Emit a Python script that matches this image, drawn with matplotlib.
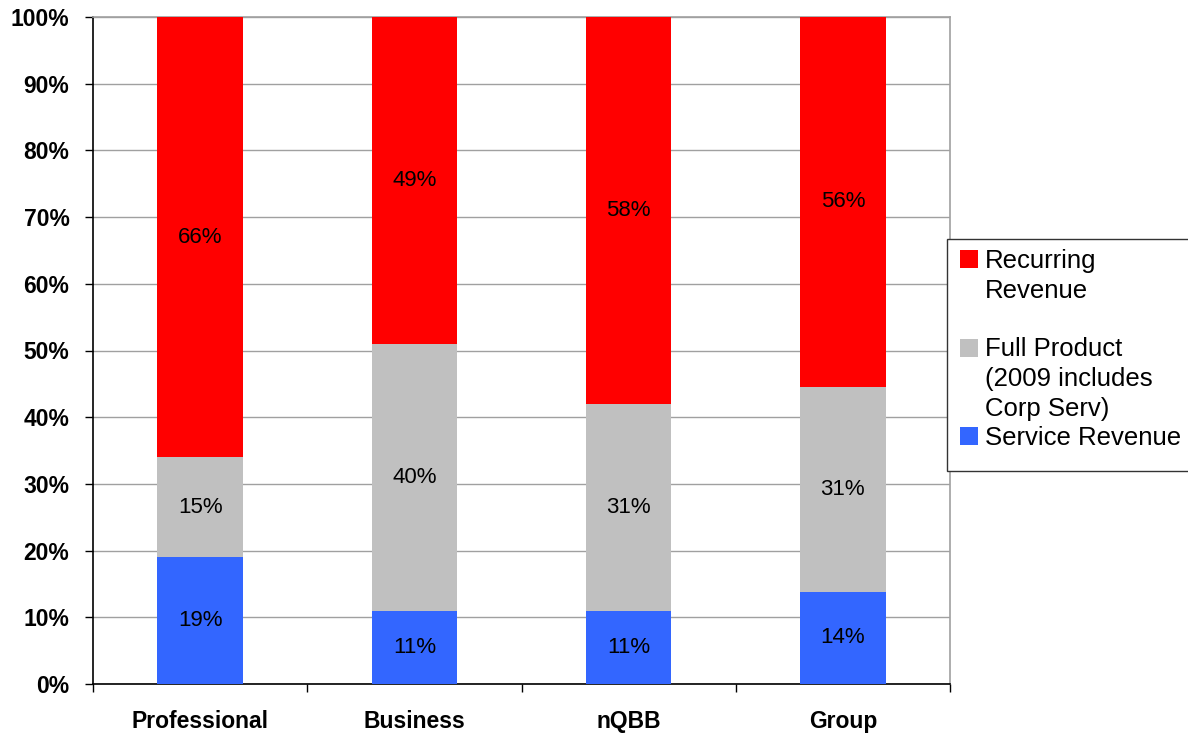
import matplotlib
matplotlib.use("Agg")
import matplotlib.pyplot as plt
from matplotlib.patches import Rectangle
import numpy as np

plt.rcParams['font.family'] = ['Liberation Sans', 'DejaVu Sans']

categories = ["Professional", "Business", "nQBB", "Group"]
series_names = ["Service Revenue", "Full Product\n(2009 includes\nCorp Serv)", "Recurring\nRevenue"]
service = [19, 11, 11, 14]
full_product = [15, 40, 31, 31]
recurring = [66, 49, 58, 56]
colors = ["#3366FF", "#C0C0C0", "#FF0000"]
yticks = [0, 10, 20, 30, 40, 50, 60, 70, 80, 90, 100]

raw = np.array([service, full_product, recurring], dtype=float)
totals = raw.sum(axis=0)
shares = raw / totals * 100

fig = plt.figure(figsize=(11.88, 7.35), dpi=100)
ax = fig.add_axes([93/1188, 1-684/735, (950-93)/1188, (684-17)/735])

x = np.arange(len(categories))
bottom = np.zeros(len(categories))
for i in range(3):
    ax.bar(x, shares[i], width=0.40, bottom=bottom, color=colors[i], zorder=3)
    for j in range(len(categories)):
        ax.text(x[j], bottom[j] + shares[i][j] / 2, f"{int(raw[i][j])}%",
                ha="center", va="center", fontsize=16, color="black", zorder=4)
    bottom += shares[i]

ax.set_xlim(-0.5, len(categories) - 0.5)
ax.set_ylim(0, 100)
ax.set_yticks(yticks)
ax.set_yticklabels([f"{v}%" for v in yticks], fontsize=16.5, fontweight="bold")
ax.yaxis.grid(True, color="#A0A0A0", linewidth=1.0, zorder=0)
ax.set_axisbelow(True)
ax.tick_params(axis="y", length=6, width=1, pad=11, color="black")

ax.set_xticks(x)
ax.set_xticklabels(categories, fontsize=16.5, fontweight="bold")
ax.tick_params(axis="x", which="major", length=0, pad=19)
ax.set_xticks(np.arange(-0.5, len(categories)), minor=True)
ax.tick_params(axis="x", which="minor", length=6, width=1, color="black")

ax.spines["left"].set_color("black")
ax.spines["bottom"].set_color("black")
ax.spines["top"].set_color("#A0A0A0")
ax.spines["right"].set_color("#A0A0A0")
for s in ax.spines.values():
    s.set_linewidth(1.2)

# Legend (manual, Excel-like layout)
W, H = 1188, 735
def fx(px):
    return px / W
def fy(py):
    return 1 - py / H

fig.patches.append(Rectangle((fx(947), fy(471)), fx(260), (471 - 239) / H,
                             transform=fig.transFigure, facecolor="white",
                             edgecolor="#333333", linewidth=1.0))
legend_order = [2, 1, 0]
top_px = 250
for k, idx in enumerate(legend_order):
    ytop = top_px + k * 88.5
    fig.patches.append(Rectangle((fx(960), fy(ytop + 18)), fx(18), 18 / H,
                                 transform=fig.transFigure, facecolor=colors[idx],
                                 edgecolor="none"))
    fig.text(fx(985), fy(ytop - 1), series_names[idx], ha="left", va="top",
             fontsize=18.5, linespacing=1.3, color="black")

fig.savefig("out.png", dpi=100)
